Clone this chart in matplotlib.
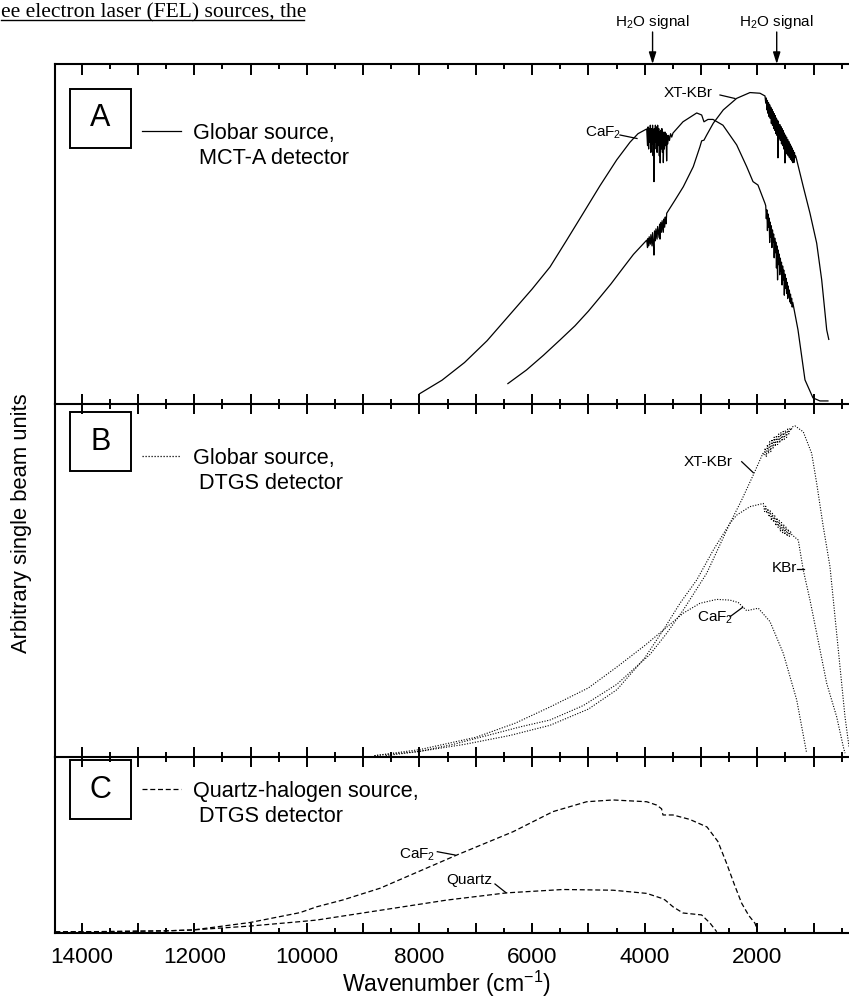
import matplotlib
matplotlib.use("Agg")
import matplotlib.pyplot as plt
from matplotlib.lines import Line2D
from matplotlib.patches import Rectangle
from matplotlib.ticker import MultipleLocator, FuncFormatter

plt.rcParams['font.family'] = ['Liberation Sans', 'DejaVu Sans']
plt.rcParams['mathtext.default'] = 'regular'

# ---------------- data (wavenumber in cm-1, arbitrary single-beam units) ----------------
# Panel A: Globar source, MCT-A detector (solid)
A_CAF2_WN = ([8000, 7600, 7200, 6800, 6400, 6000, 5682, 5385, 5096, 4794, 4497, 4261, 4119, 3964,
              3950, 3940, 3930, 3920, 3910, 3900, 3890, 3880, 3870, 3860, 3850, 3840, 3835, 3830,
              3820, 3810, 3800, 3790, 3780, 3770, 3760, 3750, 3740, 3730, 3725, 3715, 3705, 3695,
              3685, 3675, 3669, 3660, 3650, 3640, 3630, 3620, 3610, 3600, 3590, 3575, 3560, 3540, 3520,
              3497, 3320, 3076, 2988, 2947, 2876, 2787, 2610, 2366, 2188, 2076, 1988, 1863]
             + [1850, 1840, 1830, 1820, 1810, 1800, 1790, 1780, 1770, 1760, 1750, 1740, 1730, 1720,
                1710, 1700, 1690, 1680, 1670, 1660, 1650, 1640, 1630, 1620, 1610, 1600, 1590, 1580,
                1570, 1560, 1550, 1540, 1530, 1520, 1510, 1500, 1490, 1480, 1470, 1460, 1450, 1440,
                1430, 1420, 1410, 1400, 1390, 1380, 1370]
             + [1277, 1153, 1011, 887, 745])
A_CAF2_V = ([3.0, 7.0, 12.2, 18.6, 26.2, 33.8, 40.3, 48.2, 56.0, 64.2, 71.8, 77.0, 79.5, 80.9,
             76.0, 81.5, 75.0, 81.0, 77.0, 82.0, 74.0, 81.0, 76.5, 82.0, 73.0, 80.0, 65.4, 81.0,
             75.0, 82.0, 77.0, 81.5, 74.0, 82.0, 76.0, 81.0, 73.0, 80.0, 70.9, 80.5, 75.0, 81.0,
             74.0, 80.0, 71.0, 79.5, 75.0, 80.0, 76.0, 79.5, 71.5, 79.0, 76.5, 79.0, 77.5, 79.5, 78.5,
             79.7, 83.0, 85.6, 85.0, 83.0, 83.7, 83.7, 82.0, 76.2, 69.8, 65.4, 64.4, 59.0]
            + [58.3, 54.5, 57.1, 51.0, 55.9, 52.0, 54.7, 47.5, 53.5, 49.0, 52.4, 46.0, 51.2, 47.5,
               50.0, 43.0, 48.8, 44.5, 47.6, 40.0, 46.5, 36.5, 45.3, 41.0, 44.1, 38.0, 42.9, 39.0,
               41.7, 35.0, 40.6, 36.5, 39.4, 32.0, 38.2, 34.0, 37.0, 32.5, 35.8, 31.0, 34.7, 31.5,
               33.5, 30.0, 32.3, 29.5, 31.1, 28.5, 29.9]
            + [21.8, 7.1, 1.8, 0.9, 0.9])

A_XT_WN = ([6430, 6100, 5800, 5500, 5238, 5000, 4794, 4600, 4385, 4200, 3964,
            3950, 3940, 3930, 3920, 3900, 3890, 3870, 3860, 3845, 3835, 3825, 3810, 3800, 3780,
            3770, 3745, 3735, 3728, 3715, 3700, 3690, 3669, 3660, 3645, 3635, 3620,
            3609, 3460, 3314, 3137, 3018, 2988, 2947, 2899, 2781, 2604, 2366, 2130, 1952, 1863]
           + [1850, 1840, 1830, 1820, 1810, 1800, 1790, 1780, 1770, 1760, 1750, 1740, 1730, 1720,
              1710, 1700, 1690, 1680, 1670, 1660, 1650, 1640, 1633, 1625, 1610, 1600, 1590, 1580,
              1570, 1560, 1550, 1540, 1530, 1520, 1508, 1500, 1490, 1480, 1470, 1460, 1450, 1440,
              1430, 1420, 1410, 1400, 1390, 1380, 1370, 1360, 1350, 1340, 1330, 1320]
           + [1300, 1183, 1064, 945, 856, 767, 730])
A_XT_V = ([6.0, 10.0, 14.3, 18.9, 23.0, 27.3, 31.4, 35.3, 40.0, 44.0, 48.2,
           46.0, 48.7, 46.5, 49.2, 47.0, 49.8, 46.5, 50.4, 47.0, 43.8, 50.9, 48.0, 51.5, 48.5,
           52.2, 49.0, 52.9, 48.5, 53.4, 50.5, 53.9, 50.5, 54.4, 52.0, 55.0, 53.0,
           56.1, 60.0, 63.9, 69.8, 75.7, 77.4, 77.6, 79.1, 82.6, 86.5, 89.9, 91.6, 91.4, 90.6]
          + [88.5, 90.0, 86.5, 89.3, 85.5, 88.6, 84.5, 88.0, 84.0, 87.3, 82.5, 86.7, 82.0, 86.0,
             81.0, 85.4, 80.5, 84.8, 79.5, 84.1, 79.0, 83.5, 72.4, 83.0, 78.0, 82.2, 77.5, 81.6,
             76.5, 81.0, 76.0, 80.4, 75.0, 79.7, 70.9, 79.1, 74.0, 78.5, 73.5, 77.8, 73.0, 77.2,
             72.5, 76.5, 72.0, 75.9, 71.5, 75.3, 71.0, 74.6, 71.0, 74.0, 72.5, 73.0]
          + [71.8, 63.9, 56.1, 47.3, 36.5, 21.8, 19.0])

# Panel B: Globar source, DTGS detector (dotted)
B_XT_WN = ([8600, 8000, 7400, 6800, 6200, 5682, 5091, 4497, 3906, 3609, 3314, 2899, 2485, 2277,
            2071, 1900]
           + [1880, 1860, 1840, 1820, 1800, 1780, 1760, 1740, 1720, 1700, 1680, 1660, 1640, 1620,
              1600, 1580, 1560, 1540, 1520, 1500, 1480, 1460, 1440, 1420, 1400, 1380]
           + [1330, 1183, 1034, 945, 828, 709, 620, 531, 442, 371])
B_XT_V = ([0.3, 1.5, 3.5, 6.0, 8.5, 10.4, 14.5, 20.5, 29.0, 35.0, 41.6, 52.0, 66.2, 72.8,
           79.9, 86.0]
          + [85.5, 87.5, 85.0, 88.5, 86.0, 89.3, 86.5, 90.0, 87.5, 90.6, 88.0, 91.1, 88.5, 91.5,
             89.0, 91.9, 89.5, 92.2, 90.0, 92.5, 90.5, 92.9, 91.5, 93.2, 92.5, 93.5]
          + [93.8, 92.1, 86.0, 77.5, 65.2, 53.9, 39.7, 25.5, 11.3, 2.8])

B_KBR_WN = ([8800, 8000, 7200, 6400, 5682, 5000, 4494, 4000, 3670, 3373, 3076, 2781, 2485, 2366,
             2130, 1893]
            + [1870, 1850, 1830, 1810, 1790, 1770, 1750, 1730, 1710, 1690, 1670, 1650, 1630, 1610,
               1590, 1570, 1550, 1530, 1510, 1490, 1470, 1450, 1430, 1410, 1390]
            + [1272, 1183, 1064, 945, 767, 590, 472, 442])
B_KBR_V = ([0.3, 1.5, 3.5, 6.0, 8.9, 13.5, 19.0, 28.0, 35.9, 43.5, 50.1, 58.6, 66.2, 68.5,
            70.9, 71.8]
           + [69.5, 71.0, 69.0, 70.3, 68.0, 69.7, 67.0, 69.0, 66.5, 68.3, 65.5, 67.7, 65.0, 67.0,
              64.0, 66.4, 63.5, 65.7, 63.0, 65.1, 62.5, 64.5, 62.5, 63.8, 63.0]
           + [61.4, 52.9, 44.4, 35.0, 20.8, 11.3, 2.8, 1.0])

B_CAF2_WN = [8800, 8000, 7000, 6300, 5682, 5000, 4497, 4000, 3670, 3314, 3018, 2721, 2485, 2337,
             2188, 1982, 1774, 1538, 1300, 1123]
B_CAF2_V = [0.3, 2.0, 5.5, 9.5, 14.1, 19.5, 25.4, 31.5, 35.9, 40.7, 43.5, 44.6, 44.4, 43.7,
            41.4, 42.1, 38.3, 29.3, 16.1, 1.0]

# Panel C: quartz-halogen source, DTGS detector (dashed)
C_CAF2_WN = [14470, 13500, 12500, 12022, 11011, 10123, 9826, 9359, 8702, 7339, 6339, 5629, 5030,
             4563, 3964, 3787, 3700, 3675, 3497, 3200, 2893, 2700, 2550, 2400, 2277, 2150, 2041,
             2000]
C_CAF2_V = [0.8, 1.0, 1.4, 1.9, 6.1, 11.7, 15.0, 18.9, 25.5, 44.3, 57.5, 68.9, 74.5,
            75.5, 74.5, 72.6, 70.5, 67.0, 67.0, 64.5, 60.2, 52.0, 40.0, 27.0, 17.0, 10.0, 5.7,
            1.9]

C_QTZ_WN = [14470, 13500, 12500, 12022, 11011, 10123, 9826, 8702, 7517, 6451, 5451, 4563, 3964,
            3698, 3640, 3497, 3320, 2989, 2840, 2721]
C_QTZ_V = [0.8, 1.0, 1.4, 1.9, 4.1, 6.6, 7.5, 13.0, 18.8, 22.9, 24.8, 24.4, 22.6,
           19.8, 18.9, 15.0, 11.5, 10.4, 5.8, 0.9]

H2O_BANDS = [3860, 1655]
XTICK_LABEL_STEP = 2000

# ---------------- layout helpers (pixel -> figure fraction) ----------------
W, H = 849, 1000
fig = plt.figure(figsize=(W / 100, H / 100), dpi=100)


def fx(x):
    return x / W


def fy(y):
    return 1 - y / H


X_MAX, X_MIN = 14474, 300
LEFT_PX, RIGHT_PX = 55, 853
panels = [(64, 404), (404, 756.7), (756.7, 933.3)]
axes = []
for top, bot in panels:
    ax = fig.add_axes([fx(LEFT_PX), fy(bot), (RIGHT_PX - LEFT_PX) / W, (bot - top) / H])
    ax.set_xlim(X_MAX, X_MIN)
    ax.set_ylim(0, 100)
    ax.set_yticks([])
    ax.spines['right'].set_visible(False)
    for s in ax.spines.values():
        s.set_linewidth(1.5)
    ax.xaxis.set_major_locator(MultipleLocator(1000))
    ax.xaxis.set_minor_locator(MultipleLocator(500))
    ax.patch.set_alpha(0)
    axes.append(ax)
ax_a, ax_b, ax_c = axes

# tick styling: top of A inward, separators crossing, bottom of C inward
ax_a.tick_params(axis='x', which='both', top=True, bottom=False, labeltop=False,
                 labelbottom=False, direction='in', width=1.4)
ax_a.tick_params(axis='x', which='major', length=8)
ax_a.tick_params(axis='x', which='minor', length=3.8)
ax_a.spines['bottom'].set_visible(False)

ax_b.tick_params(axis='x', which='both', top=True, bottom=True, labeltop=False,
                 labelbottom=False, direction='inout', width=1.4)
ax_b.tick_params(axis='x', which='major', length=14.4)
ax_b.tick_params(axis='x', which='minor', length=7.2)

ax_c.spines['top'].set_visible(False)
ax_c.tick_params(axis='x', which='both', top=False, bottom=True, direction='in', width=1.4)
ax_c.tick_params(axis='x', which='major', length=7, labelsize=16.2, pad=10)
ax_c.tick_params(axis='x', which='minor', length=3.5)
ax_c.xaxis.set_major_formatter(
    FuncFormatter(lambda v, p: f"{int(round(v))}" if round(v) % XTICK_LABEL_STEP == 0 else ""))

# curves
LW = 0.9
ax_a.plot(A_CAF2_WN, A_CAF2_V, color='black', lw=LW)
ax_a.plot(A_XT_WN, A_XT_V, color='black', lw=LW)
dot = (0, (1, 1.4))
ax_b.plot(B_XT_WN, B_XT_V, color='black', lw=0.8, ls=dot)
ax_b.plot(B_KBR_WN, B_KBR_V, color='black', lw=0.8, ls=dot)
ax_b.plot(B_CAF2_WN, B_CAF2_V, color='black', lw=0.8, ls=dot)
dash = (0, (4, 2.2))
ax_c.plot(C_CAF2_WN, C_CAF2_V, color='black', lw=0.9, ls=dash)
ax_c.plot(C_QTZ_WN, C_QTZ_V, color='black', lw=0.9, ls=dash)

# axis titles
fig.text(fx(22), fy(523), 'Arbitrary single beam units', rotation=90, ha='center', va='center',
         fontsize=15.8)
fig.text(fx(446), fy(984), 'Wavenumber (cm$^{-1}$)', ha='center', va='center', fontsize=16.6)

# panel letter boxes and legend entries
box_specs = [('A', 89, '-', 'Globar source,', ' MCT-A detector', 131),
             ('B', 412, dot, 'Globar source,', ' DTGS detector', 456),
             ('C', 760, dash, 'Quartz-halogen source,', ' DTGS detector', 789)]
for letter, btop, style, line1, line2, ly in box_specs:
    fig.add_artist(Rectangle((fx(70), fy(btop + 59)), 61 / W, 59 / H, transform=fig.transFigure,
                             fill=False, lw=1.4, edgecolor='black'))
    fig.text(fx(100.5), fy(btop + 29.5), letter, ha='center', va='center', fontsize=22)
    fig.add_artist(Line2D([fx(142), fx(181)], [fy(ly), fy(ly)], transform=fig.transFigure,
                          color='black', lw=0.9, ls=style))
    fig.text(fx(193), fy(ly + 7.8), line1, ha='left', va='baseline', fontsize=15.6)
    fig.text(fx(193), fy(ly + 32.8), line2, ha='left', va='baseline', fontsize=15.6)

# curve labels with leader lines (pixel positions)
labels = [('XT-KBr', 688, 93, (720, 95), (735, 98.5)),
          ('CaF$_2$', 603, 133, (620, 135), (637, 138.5)),
          ('XT-KBr', 708, 462, (741.7, 461.7), (753.3, 472.7)),
          ('KBr', 784, 568, (797, 569), (804, 569)),
          ('CaF$_2$', 715, 618, (730, 616.7), (742.7, 607.3)),
          ('CaF$_2$', 417, 855, (437.3, 851.7), (455, 855)),
          ('Quartz', 469, 880, (495, 884), (506, 892.7))]
for txt, tx, ty, p0, p1 in labels:
    fig.text(fx(tx), fy(ty), txt, ha='center', va='center', fontsize=11)
    fig.add_artist(Line2D([fx(p0[0]), fx(p1[0])], [fy(p0[1]), fy(p1[1])],
                          transform=fig.transFigure, color='black', lw=0.9))

# water vapour markers above panel A
for band in H2O_BANDS:
    ax_a.annotate('', xy=(band, 1.0), xycoords=('data', 'axes fraction'),
                  xytext=(band, 1.0 + 32 / 340), textcoords=('data', 'axes fraction'),
                  arrowprops=dict(arrowstyle='-|>,head_length=0.7,head_width=0.22',
                                  color='black', lw=1.0, shrinkA=0, shrinkB=0),
                  annotation_clip=False)
    ax_a.annotate('H$_2$O signal', xy=(band, 1.0 + 42 / 340), xycoords=('data', 'axes fraction'),
                  ha='center', va='center', fontsize=11, annotation_clip=False)

# running text of the page above the figure
fig.text(fx(1), fy(17), 'ee electron laser (FEL) sources, the', ha='left', va='baseline',
         fontsize=15.5, family='Liberation Serif')
fig.add_artist(Line2D([fx(1), fx(304)], [fy(20), fy(20)], transform=fig.transFigure,
                      color='black', lw=1.0))

fig.savefig('out.png', dpi=100)
